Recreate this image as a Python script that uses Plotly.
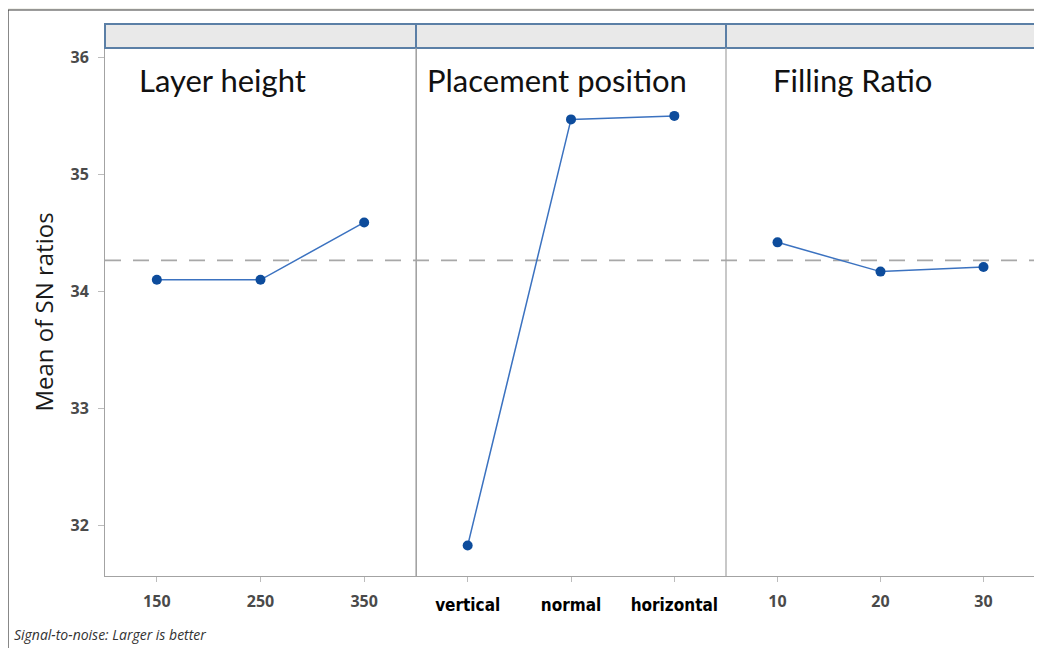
import plotly.graph_objects as go

# ---- data ----
panel_titles = ["Layer height", "Placement position", "Filling Ratio"]
layer_levels = ["150", "250", "350"]
layer_sn = [34.10, 34.10, 34.59]
place_levels = ["vertical", "normal", "horizontal"]
place_sn = [31.83, 35.47, 35.50]
fill_levels = ["10", "20", "30"]
fill_sn = [34.42, 34.17, 34.21]
y_ticks = [32, 33, 34, 35, 36]

all_vals = layer_sn + place_sn + fill_sn
grand_mean = sum(all_vals) / len(all_vals)

levels = [layer_levels, place_levels, fill_levels]
values = [layer_sn, place_sn, fill_sn]

# page body has an 8px margin; work in reference pixel coords and shift
OFF = 8
W, H = 1042 - OFF, 648 - OFF
PL, PR, PT, PB = 105, 1035, 48, 576   # plot area in reference pixels
ml = PL - OFF
mr = W - (PR - OFF)
mt = PT - OFF
mb = H - (PB - OFF)
pw = PR - PL
ph = PB - PT

def px_x(p):
    return (p - PL) / pw

def px_y(p):
    return (PB - p) / ph

edges = [105, 416, 726, 1035]
domains = [[px_x(edges[i]), px_x(edges[i + 1])] for i in range(3)]

fig = go.Figure()
line_col = "#3b72c0"
marker_col = "#0d4c9c"
for i in range(3):
    xa = "x" if i == 0 else f"x{i+1}"
    fig.add_trace(go.Scatter(
        x=list(range(len(levels[i]))), y=values[i], xaxis=xa, yaxis="y",
        mode="lines+markers",
        line=dict(color=line_col, width=1.5),
        marker=dict(color=marker_col, size=10),
        showlegend=False, hoverinfo="skip"))

axis_line = "#a3a3a3"
tickfont_num = dict(family="Open Sans, DejaVu Sans", size=16, color="#4a4a4a")
tickfont_place = dict(family="Liberation Sans Narrow, DejaVu Sans Condensed, Roboto Condensed, Roboto", size=17, color="#000000")

layout = dict(
    width=W, height=H,
    margin=dict(l=ml, r=mr, t=mt, b=mb),
    paper_bgcolor="#f1f1ec",
    plot_bgcolor="#ffffff",
    showlegend=False,
)
for i in range(3):
    key = "xaxis" if i == 0 else f"xaxis{i+1}"
    layout[key] = dict(
        domain=domains[i], range=[-0.5, 2.5],
        tickmode="array", tickvals=list(range(3)), ticktext=[f"<b>{t}</b>" for t in levels[i]],
        tickfont=tickfont_place if i == 1 else tickfont_num,
        ticks="outside", ticklen=5, tickcolor="#bcbcbc",
        showline=True, linecolor=axis_line, linewidth=1, mirror=True,
        showgrid=False, zeroline=False, anchor="y",
        ticklabelstandoff=9 if i == 1 else 6,
    )
layout["yaxis"] = dict(
    range=[31.57, 36.08], tickvals=y_ticks, ticktext=[f"<b>{t}</b>" for t in y_ticks],
    tickfont=tickfont_num, ticks="outside", ticklen=6, tickcolor="#bcbcbc",
    ticklabelstandoff=6,
    showline=True, linecolor=axis_line, linewidth=1, mirror=True,
    showgrid=False, zeroline=False,
    title=dict(text="Mean of SN ratios", font=dict(family="Open Sans, DejaVu Sans", size=24, color="#1a1a1a"), standoff=10),
)
fig.update_layout(**layout)

shapes = []
# white frame
shapes.append(dict(type="rect", xref="paper", yref="paper", layer="below",
                   x0=px_x(8), x1=px_x(1050), y0=px_y(660), y1=px_y(10),
                   fillcolor="#ffffff", line=dict(color="#3a3a3a", width=1.2)))
# strips
for i in range(3):
    shapes.append(dict(type="rect", xref="paper", yref="paper",
                       x0=domains[i][0], x1=domains[i][1], y0=px_y(48), y1=px_y(24),
                       fillcolor="#e9e9e9", line=dict(color="#5b7fa6", width=2)))
# separators
for e in edges[1:3]:
    shapes.append(dict(type="line", xref="paper", yref="paper",
                       x0=px_x(e), x1=px_x(e), y0=0, y1=1,
                       line=dict(color=axis_line, width=1.2)))
# grand mean reference line
shapes.append(dict(type="line", xref="paper", yref="y", x0=0, x1=1,
                   y0=grand_mean, y1=grand_mean,
                   line=dict(color="#a8a8a8", width=1.6, dash="16px,12px"), layer="below"))
fig.update_layout(shapes=shapes)

annotations = []
title_x = [137, 425, 771]
for i in range(3):
    annotations.append(dict(text=panel_titles[i], xref="paper", yref="paper",
                            x=px_x(title_x[i]), y=px_y(80), xanchor="left", yanchor="middle",
                            showarrow=False,
                            font=dict(family="Lato, Open Sans, DejaVu Sans", size=31, color="#111111")))
annotations.append(dict(text="<i>Signal-to-noise: Larger is better</i>", xref="paper", yref="paper",
                        x=px_x(12), y=px_y(634), xanchor="left", yanchor="middle", showarrow=False,
                        font=dict(family="Open Sans, DejaVu Sans", size=14, color="#333333")))
fig.update_layout(annotations=annotations)

fig.write_html("out.html")
